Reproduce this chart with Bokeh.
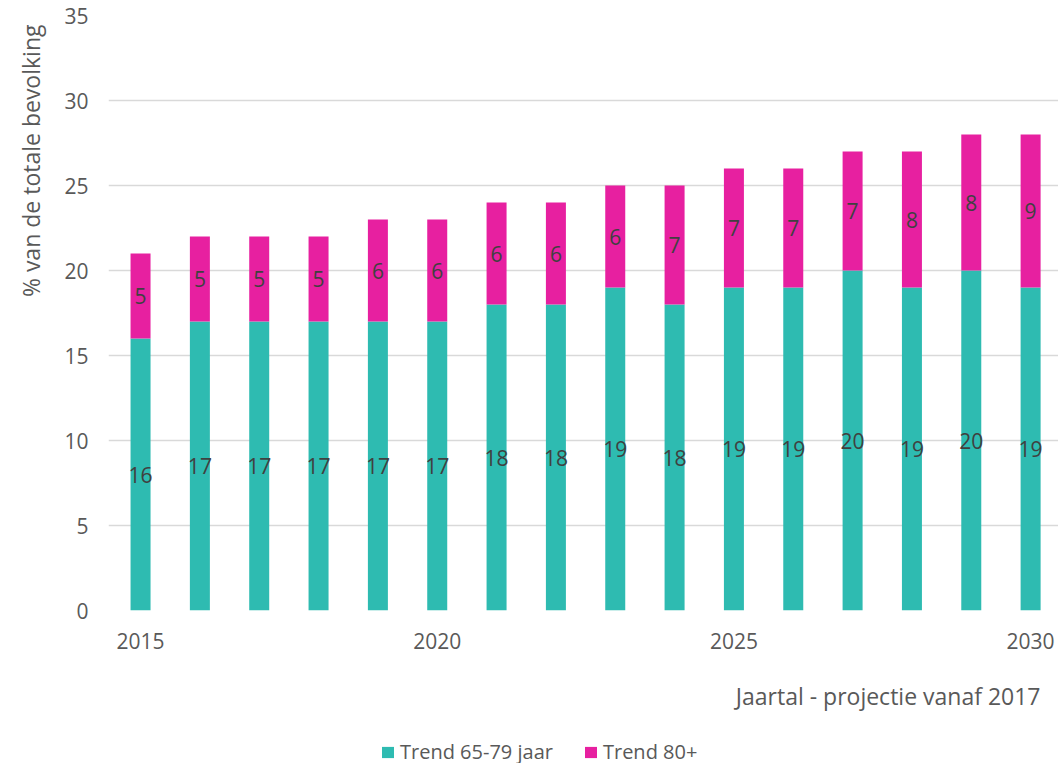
from bokeh.plotting import figure
from bokeh.layouts import column
from bokeh.models import Range1d, FixedTicker, Legend, LegendItem, Title, ColumnDataSource
from bokeh.embed import file_html
from bokeh.resources import INLINE
from bokeh.core.properties import value

years = list(range(2015, 2031))
trend_65_79 = [16, 17, 17, 17, 17, 17, 18, 18, 19, 18, 19, 19, 20, 19, 20, 19]
trend_80 = [5, 5, 5, 5, 6, 6, 6, 6, 6, 7, 7, 7, 7, 8, 8, 9]
y_ticks = [0, 5, 10, 15, 20, 25, 30, 35]
x_ticks = [2015, 2020, 2025, 2030]
series_names = ["Trend 65-79 jaar", "Trend 80+"]
colors = ["#2EBBB1", "#E720A0"]
x_title = "Jaartal - projectie vanaf 2017"
y_title = "% van de totale bevolking"

FONT = "Open Sans"
AX_COLOR = "#595959"

top1 = list(trend_65_79)
top2 = [a + b for a, b in zip(trend_65_79, trend_80)]
src = ColumnDataSource(dict(
    x=years, b1=[0] * len(years), t1=top1, b2=top1, t2=top2,
    m1=[t / 2 for t in top1], m2=[a + b / 2 for a, b in zip(top1, trend_80)],
    l1=[str(v) for v in trend_65_79], l2=[str(v) for v in trend_80],
))

p = figure(frame_width=950, frame_height=595, output_backend="svg", toolbar_location=None,
           x_range=Range1d(2014.46, 2030.47), y_range=Range1d(0, 35),
           min_border_left=108, min_border_top=15, min_border_right=0,
           min_border_bottom=123, outline_line_color=None)

r1 = p.vbar(x="x", bottom="b1", top="t1", width=0.337, source=src,
            fill_color=colors[0], line_color=None)
r2 = p.vbar(x="x", bottom="b2", top="t2", width=0.337, source=src,
            fill_color=colors[1], line_color=None)

for m, l in (("m1", "l1"), ("m2", "l2")):
    p.text(x="x", y=m, text=l, source=src, text_font=value(FONT),
           text_font_size="21px", text_color="#404040",
           text_align="center", text_baseline="middle")

p.xgrid.grid_line_color = None
p.ygrid.grid_line_color = "#D9D9D9"
p.ygrid.grid_line_width = 1.5
p.yaxis.ticker = FixedTicker(ticks=y_ticks)
p.xaxis.ticker = FixedTicker(ticks=x_ticks)
for ax in (p.xaxis, p.yaxis):
    ax.axis_line_color = None
    ax.major_tick_line_color = None
    ax.minor_tick_line_color = None
    ax.major_label_text_font = FONT
    ax.major_label_text_font_size = "21px"
    ax.major_label_text_color = AX_COLOR
p.yaxis.major_label_standoff = 14
p.xaxis.major_label_standoff = 16

yt = Title(text=y_title, align="right", text_font=FONT, text_font_size="23px",
           text_color=AX_COLOR, text_font_style="normal", standoff=26, offset=9,
           vertical_align="top")
p.add_layout(yt, "left")

xt = Title(text=x_title, align="right", text_font=FONT, text_font_size="23px",
           text_color=AX_COLOR, text_font_style="normal", offset=18, standoff=53)
p.add_layout(xt, "below")

# legend strip below the chart (frames are aligned, so x is relative to x=108)
lg = figure(width=1058, height=30, output_backend="svg", toolbar_location=None,
            x_range=Range1d(0, 1), y_range=Range1d(0, 1),
            x_axis_type=None, y_axis_type=None, min_border=0,
            outline_line_color=None)
lg.xgrid.visible = False
lg.ygrid.visible = False
d1 = lg.vbar(x=[5], bottom=[0], top=[1], width=0.1, fill_color=colors[0], line_color=None)
d2 = lg.vbar(x=[5], bottom=[0], top=[1], width=0.1, fill_color=colors[1], line_color=None)
legend = Legend(items=[LegendItem(label=series_names[0], renderers=[d1]),
                       LegendItem(label=series_names[1], renderers=[d2])],
                orientation="horizontal", location=(272, 3),
                label_text_font=FONT, label_text_font_size="20px",
                label_text_color=AX_COLOR, glyph_width=15, glyph_height=14,
                label_standoff=5, spacing=30, border_line_color=None,
                background_fill_color=None, margin=0, padding=0)
lg.add_layout(legend, "center")

layout = column(p, lg, spacing=0)
open("out.html", "w").write(file_html(layout, INLINE))
